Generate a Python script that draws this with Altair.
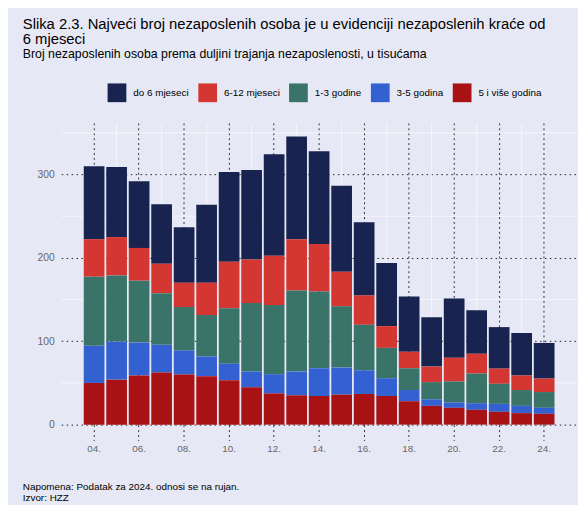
import altair as alt
import pandas as pd

years = list(range(2004, 2025))
categories = ["do 6 mjeseci", "6-12 mjeseci", "1-3 godine", "3-5 godina", "5 i više godina"]
colors = ["#19234f", "#d43631", "#3a7468", "#3461d1", "#a91215"]

do6 = [87.5, 84.0, 80.0, 71.4, 66.4, 93.6, 107.8, 107.5, 122.0, 123.3, 111.4, 103.2, 87.7, 75.8, 66.4, 59.3, 71.2, 52.2, 49.8, 51.0, 42.7]
m612 = [45.0, 46.0, 39.3, 35.3, 29.3, 38.8, 55.8, 52.2, 59.0, 61.6, 56.9, 41.5, 35.2, 26.1, 19.8, 18.6, 28.4, 23.7, 18.2, 17.4, 16.2]
g13 = [83.0, 79.4, 74.3, 62.0, 52.0, 49.8, 66.5, 82.2, 83.0, 97.3, 92.1, 73.5, 54.6, 36.4, 26.1, 20.6, 25.3, 35.6, 24.1, 19.0, 18.9]
g35 = [44.5, 45.6, 39.4, 33.2, 29.0, 23.7, 19.7, 18.6, 23.0, 28.4, 33.2, 32.4, 28.4, 21.3, 13.4, 7.9, 6.3, 7.9, 9.5, 8.7, 7.2]
g5 = [50.0, 54.0, 59.0, 62.5, 60.0, 58.0, 53.4, 45.0, 37.5, 35.2, 34.4, 36.0, 36.8, 34.4, 28.1, 22.5, 20.2, 17.8, 15.4, 13.8, 13.0]

series = [do6, m612, g13, g35, g5]
labels = [f"{y % 100:02d}." for y in years]
even_labels = [l for y, l in zip(years, labels) if y % 2 == 0]
odd_labels = [l for y, l in zip(years, labels) if y % 2 == 1]
notes = ["Napomena: Podatak za 2024. odnosi se na rujan.", "Izvor: HZZ"]

rows = []
for ci, (cat, vals) in enumerate(zip(categories, series)):
    for lab, v in zip(labels, vals):
        rows.append({"label": lab, "kategorija": cat, "value": v, "ord": 4 - ci})
df = pd.DataFrame(rows)

W, H = 523, 306
xscale = alt.Scale(domain=labels, paddingInner=0.08, paddingOuter=1.0)
yscale = alt.Scale(domain=[0, 362], nice=False)

bars = alt.Chart(df).mark_bar().encode(
    x=alt.X("label:O", scale=xscale, sort=labels, title=None,
            axis=alt.Axis(values=even_labels, labelAngle=0, labelAlign="center",
                          bandPosition=0.5, grid=True, gridDash=[2, 3],
                          gridColor="#333333", gridWidth=1, ticks=True, tickDash=[2, 3],
                          tickColor="#333333", tickSize=16, domain=False, labelPadding=8,
                          labelColor="#666666", labelFontSize=10, labelFont="Liberation Sans")),
    y=alt.Y("value:Q", stack="zero", scale=yscale, title=None,
            axis=alt.Axis(values=[0, 100, 200, 300], grid=True, gridDash=[1.5, 3.5],
                          gridColor="#222222", gridWidth=1, ticks=False, domain=False,
                          labelPadding=7, labelColor="#666666", labelFontSize=10.5,
                          labelFont="Liberation Sans")),
    color=alt.Color("kategorija:N", scale=alt.Scale(domain=categories, range=colors),
                    legend=alt.Legend(title=None, orient="none", legendX=47, legendY=-40,
                                      direction="horizontal", columns=5, symbolType="square",
                                      symbolSize=361, symbolStrokeWidth=0, labelFontSize=10,
                                      labelFont="Liberation Sans", labelColor="#000000",
                                      labelOffset=7, columnPadding=9)),
    order=alt.Order("ord:Q"),
)

minor_h = alt.Chart(pd.DataFrame({"v": [50, 150, 250, 350]})).mark_rule(
    color="#ffffff", opacity=0.6, strokeWidth=1
).encode(y=alt.Y("v:Q", scale=yscale))

minor_v = alt.Chart(pd.DataFrame({"label": odd_labels})).mark_rule(
    color="#ffffff", opacity=0.6, strokeWidth=1
).encode(x=alt.X("label:O", scale=xscale, sort=labels))

foot1 = alt.Chart(pd.DataFrame({"t": [notes[0]]})).mark_text(
    align="left", baseline="middle", fontSize=10, font="Liberation Sans", color="#000000"
).encode(x=alt.value(-39), y=alt.value(369), text="t:N")
foot2 = alt.Chart(pd.DataFrame({"t": [notes[1]]})).mark_text(
    align="left", baseline="middle", fontSize=10, font="Liberation Sans", color="#000000"
).encode(x=alt.value(-39), y=alt.value(380), text="t:N")

chart = alt.layer(minor_h, minor_v, bars, foot1, foot2).properties(
    width=W, height=H,
    autosize=alt.AutoSizeParams(type="none"),
    padding={"left": 54, "top": 113, "right": 1, "bottom": 78},
    background="#e6e9f5",
    title=alt.TitleParams(
        text=["Slika 2.3. Najveći broj nezaposlenih osoba je u evidenciji nezaposlenih kraće od", "6 mjeseci"],
        subtitle="Broj nezaposlenih osoba prema duljini trajanja nezaposlenosti, u tisućama",
        anchor="start", frame="group", dx=-39, fontSize=15, fontWeight="normal",
        font="Liberation Sans", color="#000000", lineHeight=15,
        subtitleFontSize=12.5, subtitleFont="Liberation Sans", subtitleColor="#000000",
        subtitlePadding=1.5, offset=23,
    ),
).configure_view(stroke=None)

chart.save("out.html", embed_options={"renderer": "svg", "actions": False})
